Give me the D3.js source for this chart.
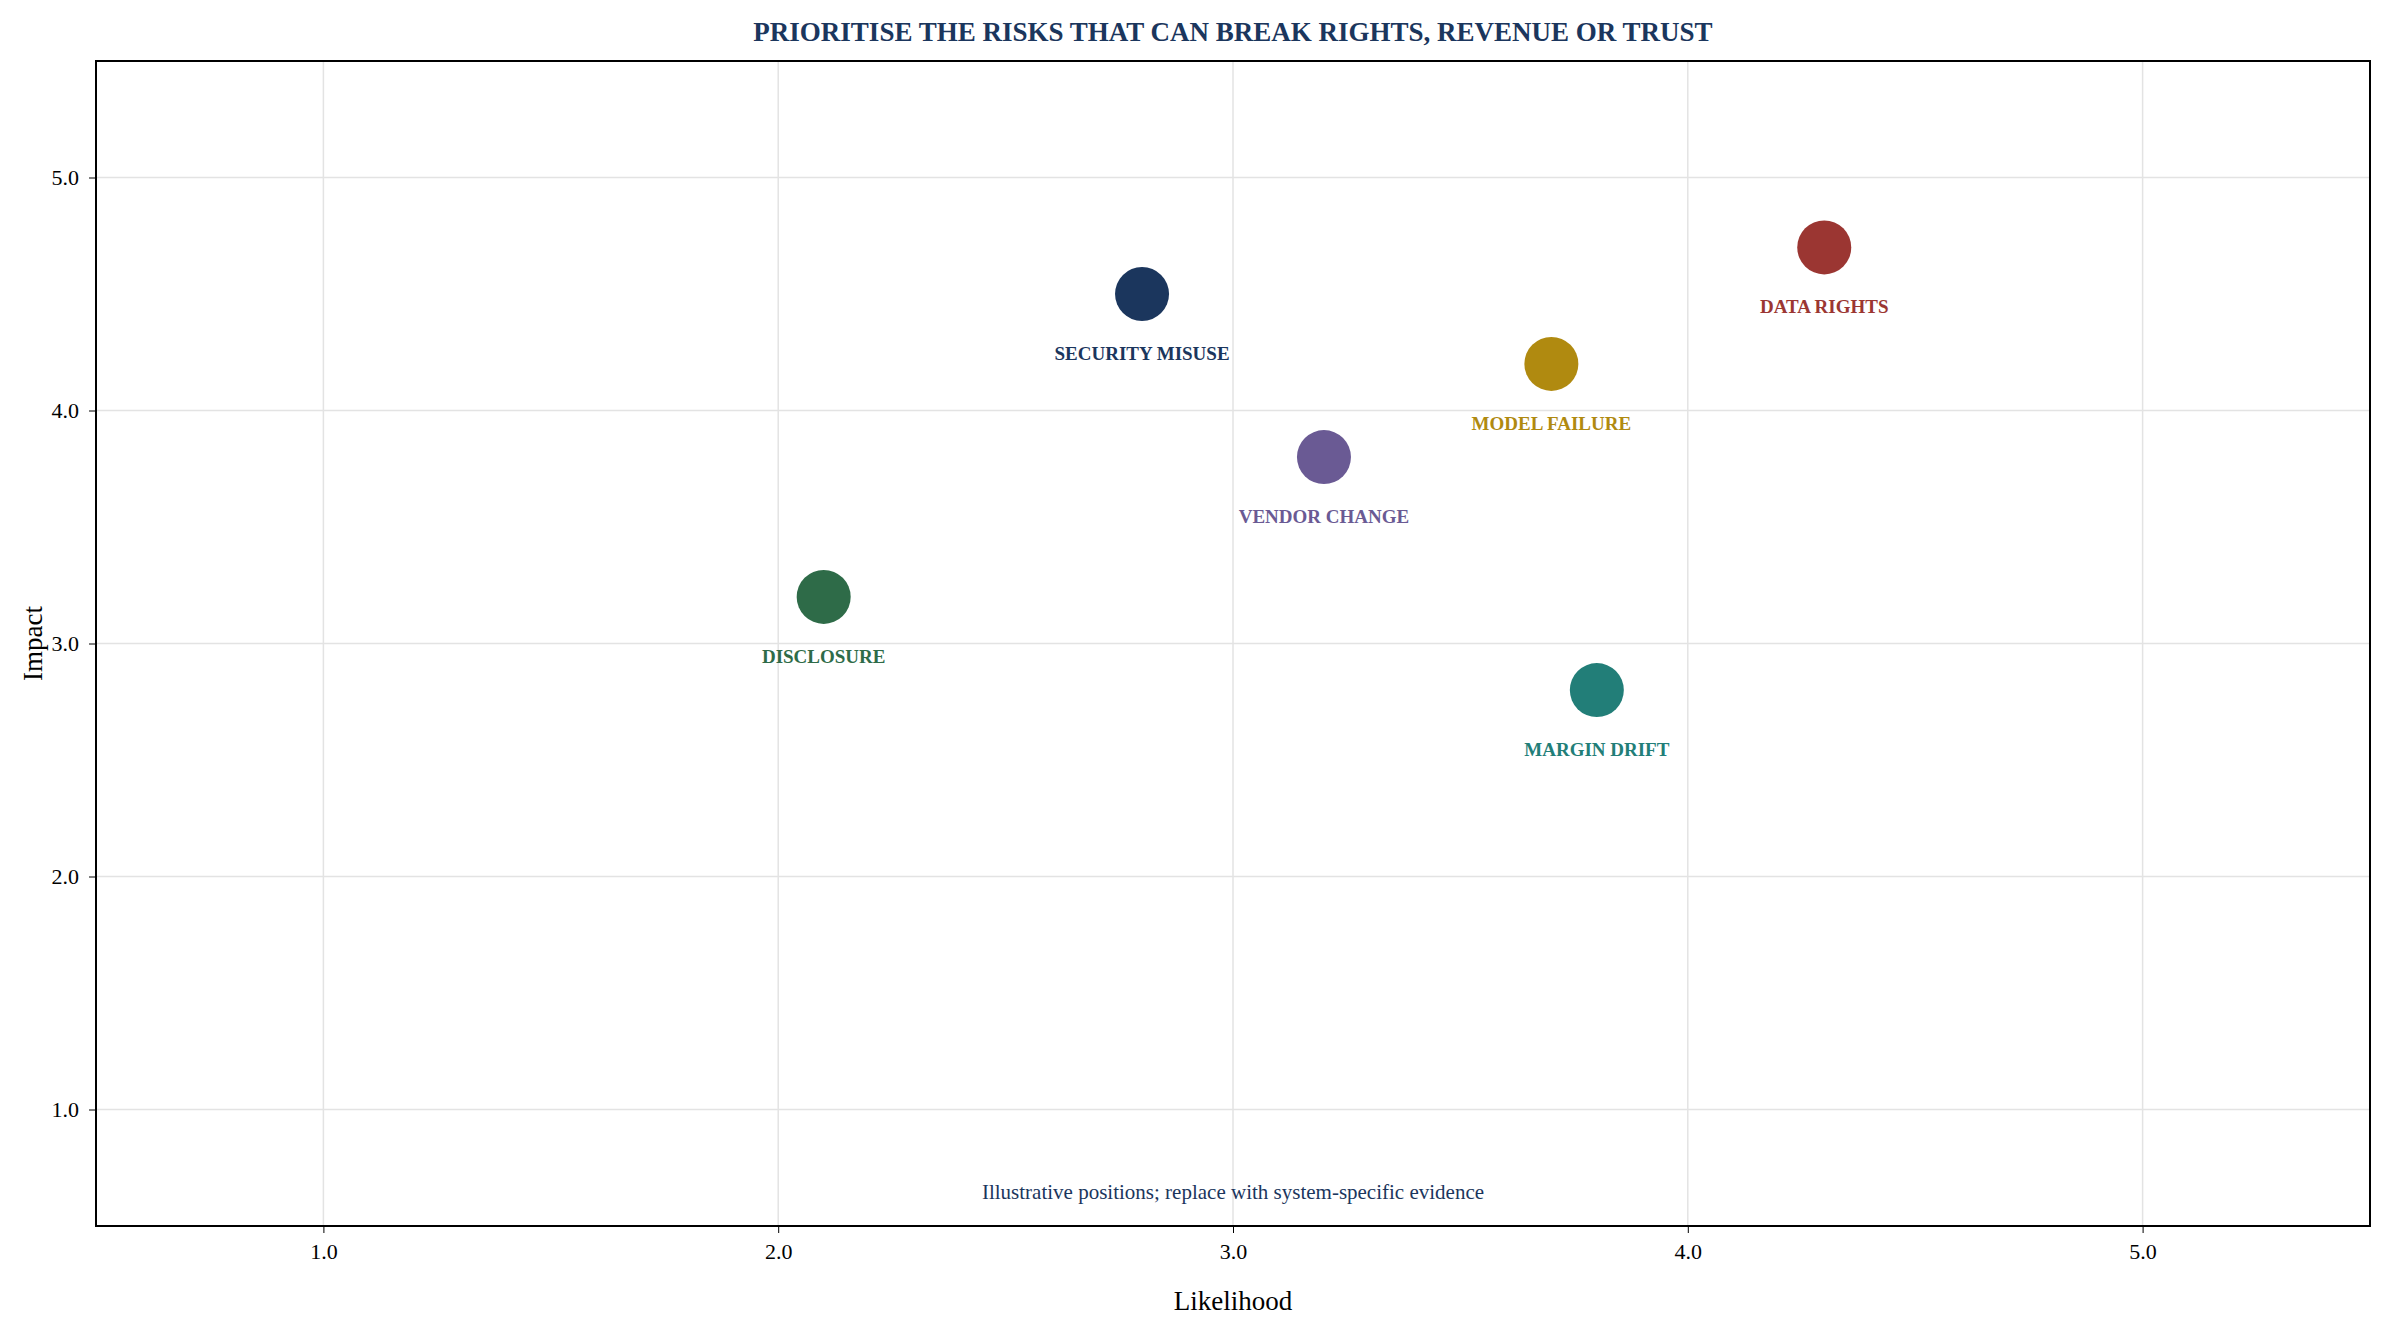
<!DOCTYPE html>
<html><head><meta charset="utf-8">
<script src="https://cdn.jsdelivr.net/npm/d3@7"></script>
<style>body{margin:0;background:#fff}text{font-family:"Liberation Serif","Times New Roman",serif}</style>
</head><body><svg id="c" width="2394" height="1336"></svg>
<script>
const names=["SECURITY MISUSE","DATA RIGHTS","MODEL FAILURE","VENDOR CHANGE","DISCLOSURE","MARGIN DRIFT"];
const likelihood=[2.8,4.3,3.7,3.2,2.1,3.8];
const impact=[4.5,4.7,4.2,3.8,3.2,2.8];
const colors=["#1b365d","#9b3632","#b08a10","#6a5a94","#2e6b48","#227e78"];
const ticks=[1,2,3,4,5];
const svg=d3.select("#c");
const L=96,R=2370,T=61,B=1226;
const x=d3.scaleLinear().domain([0.5,5.5]).range([L,R]);
const y=d3.scaleLinear().domain([0.5,5.5]).range([B,T]);
const g=svg.append("g");
g.selectAll(".gx").data(ticks).join("line").attr("x1",d=>x(d)).attr("x2",d=>x(d)).attr("y1",T).attr("y2",B).attr("stroke","#e3e3e3").attr("stroke-width",1.5);
g.selectAll(".gy").data(ticks).join("line").attr("y1",d=>y(d)).attr("y2",d=>y(d)).attr("x1",L).attr("x2",R).attr("stroke","#e3e3e3").attr("stroke-width",1.5);
const ax=svg.append("g").attr("transform",`translate(0,${B})`).call(d3.axisBottom(x).tickValues(ticks).tickSize(7).tickPadding(10));
const ay=svg.append("g").attr("transform",`translate(${L},0)`).call(d3.axisLeft(y).tickValues(ticks).tickSize(7).tickPadding(10));
[ax,ay].forEach(a=>{a.selectAll("text").attr("font-size",22).attr("fill","#000").attr("font-family","Liberation Serif");a.select(".domain").remove();a.selectAll("line").attr("stroke","#000")});
svg.append("rect").attr("x",L).attr("y",T).attr("width",R-L).attr("height",B-T).attr("fill","none").attr("stroke","#000").attr("stroke-width",2);
const idx=d3.range(names.length);
svg.selectAll(".pt").data(idx).join("circle").attr("cx",i=>x(likelihood[i])).attr("cy",i=>y(impact[i])).attr("r",27).attr("fill",i=>colors[i]);
svg.selectAll(".lb").data(idx).join("text").attr("x",i=>x(likelihood[i])).attr("y",i=>y(impact[i])+66).attr("text-anchor","middle").attr("font-size",19).attr("font-weight","bold").attr("fill",i=>colors[i]).text(i=>names[i]);
svg.append("text").attr("x",(L+R)/2).attr("y",41).attr("text-anchor","middle").attr("font-size",27).attr("font-weight","bold").attr("fill","#1b365d").text("PRIORITISE THE RISKS THAT CAN BREAK RIGHTS, REVENUE OR TRUST");
svg.append("text").attr("x",x(3)).attr("y",1199).attr("text-anchor","middle").attr("font-size",21).attr("fill","#1b365d").text("Illustrative positions; replace with system-specific evidence");
svg.append("text").attr("x",(L+R)/2).attr("y",1310).attr("text-anchor","middle").attr("font-size",27).text("Likelihood");
svg.append("text").attr("transform",`translate(42,${(T+B)/2}) rotate(-90)`).attr("text-anchor","middle").attr("font-size",27).text("Impact");
</script></body></html>
